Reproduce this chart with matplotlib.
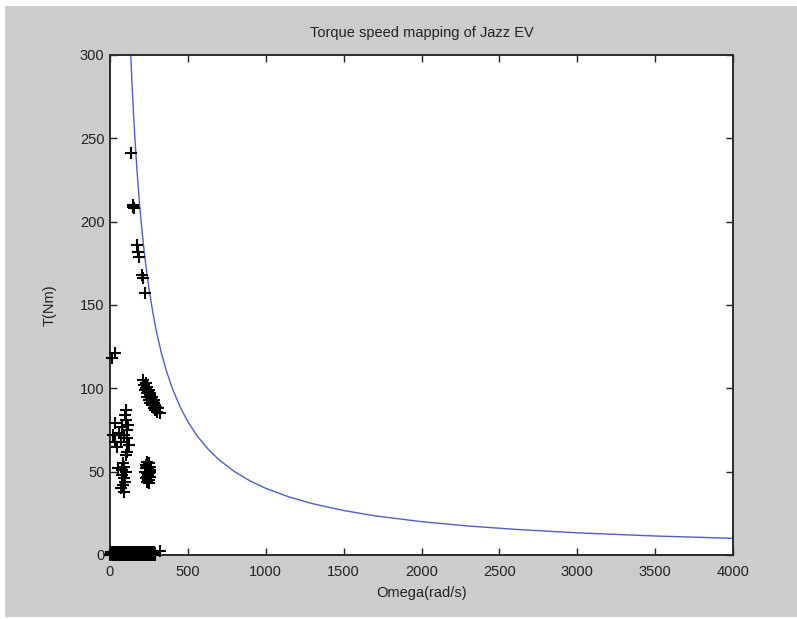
import matplotlib
matplotlib.use("Agg")
import matplotlib.pyplot as plt
from matplotlib.patches import Rectangle

plt.rcParams['font.family'] = ['Liberation Sans', 'DejaVu Sans']

# ---- data ----
curve_omega = [133, 140, 150, 160, 170, 180, 190, 200, 215, 230, 250, 275, 300, 330, 360,
               400, 450, 500, 560, 630, 700, 800, 900, 1000, 1150, 1300, 1500, 1700, 2000,
               2300, 2600, 3000, 3500, 4000, 4000]
curve_torque = [300.8, 285.7, 266.7, 250.0, 235.3, 222.2, 210.5, 200.0, 186.0, 173.9, 160.0,
                145.5, 133.3, 121.2, 111.1, 100.0, 88.9, 80.0, 71.4, 63.5, 57.1, 50.0, 44.4,
                40.0, 34.8, 30.8, 26.7, 23.5, 20.0, 17.4, 15.4, 13.3, 11.4, 10.0, 0.0]

# acceleration path points
path_omega = [15, 30, 133, 145, 150, 155, 175, 182, 188, 205, 210, 225]
path_torque = [118, 121, 241, 210, 209, 208, 186, 182, 179, 168, 166, 157]

# upper-right cluster
ur_omega = [215, 220, 225, 230, 235, 240, 245, 250, 255, 260, 265, 270, 275, 280, 285,
            290, 295, 300, 310, 320, 240, 260, 280, 230, 250, 270, 290]
ur_torque = [105, 102, 99, 103, 97, 95, 98, 93, 96, 91, 94, 90, 92, 88, 91,
             87, 89, 86, 88, 85, 101, 97, 93, 100, 99, 95, 90]

# middle cluster
mid_omega = [225, 230, 235, 240, 245, 250, 255, 260, 235, 240, 250, 230, 245, 255, 260,
             238, 248, 228, 252, 242]
mid_torque = [50, 54, 47, 56, 52, 45, 50, 53, 44, 49, 55, 46, 48, 47, 51,
              53, 43, 52, 49, 45]

# left cluster
left_omega = [100, 105, 110, 107, 112, 95, 115, 120, 100, 30, 35, 20, 45, 60, 70, 80, 90,
              85, 80, 90, 85, 88, 95, 75, 50, 70, 100, 92]
left_torque = [87, 81, 75, 70, 62, 84, 78, 66, 60, 79, 68, 72, 65, 73, 68, 77, 72,
               55, 51, 46, 42, 38, 44, 48, 52, 40, 50, 53]

# standstill / low torque points
zero_omega = [0, 4, 8, 12, 16, 20, 24, 28, 32, 36, 40, 44, 48, 52, 56, 60, 64, 68, 72, 76,
              80, 84, 88, 92, 96, 100, 104, 108, 112, 116, 120, 124, 128, 132, 136, 140,
              144, 148, 152, 156, 160, 164, 168, 172, 176, 180, 184, 188, 192, 196, 200,
              204, 208, 212, 216, 220, 224, 228, 232, 236, 240, 244, 248, 252, 256, 260,
              264, 268, 272, 276, 280, 284, 288, 292, 320]
zero_torque = [0, 1, 2, 0, 1, 2, 0, 1, 2, 0, 1, 2, 0, 1, 2, 0, 1, 2, 0, 1,
               2, 0, 1, 2, 0, 1, 2, 0, 1, 2, 0, 1, 2, 0, 1, 2,
               0, 1, 2, 0, 1, 2, 0, 1, 2, 0, 1, 2, 0, 1, 2,
               0, 1, 2, 0, 1, 2, 0, 1, 2, 0, 1, 2, 0, 1, 2,
               0, 1, 2, 0, 1, 2, 0, 1, 2.5]

x_ticks = [0, 500, 1000, 1500, 2000, 2500, 3000, 3500, 4000]
y_ticks = [0, 50, 100, 150, 200, 250, 300]

# ---- figure ----
fig = plt.figure(figsize=(7.97, 6.19), dpi=100, facecolor='white')
fig.patches.append(Rectangle((5 / 797, 1 - 617 / 619), 792 / 797, 611 / 619,
                             transform=fig.transFigure, facecolor='#cccccc',
                             edgecolor='none', zorder=-10))

ax = fig.add_axes([110 / 797, 1 - 555 / 619, 623 / 797, 500 / 619])
ax.set_facecolor('white')

ax.plot(curve_omega, curve_torque, color='#4f5fc8', linewidth=1.0, zorder=2)

mk = dict(marker='+', linestyle='none', color='black', markersize=9,
          markeredgewidth=1.5, clip_on=False, zorder=3)
for xs, ys in [(path_omega, path_torque), (ur_omega, ur_torque), (mid_omega, mid_torque),
               (left_omega, left_torque), (zero_omega, zero_torque)]:
    ax.plot(xs, ys, **mk)

ax.set_xlim(0, 4000)
ax.set_ylim(0, 300)
ax.set_xticks(x_ticks)
ax.set_yticks(y_ticks)
ax.tick_params(direction='in', length=5, width=1, top=True, right=True,
               labelsize=10.5, colors='#222222')
ax.tick_params(axis='x', pad=7)
ax.tick_params(axis='y', pad=4)
for s in ax.spines.values():
    s.set_linewidth(1.4)
    s.set_color('#2a2a2a')

ax.set_title('Torque speed mapping of Jazz EV', fontsize=10.5, color='#222222', pad=13)
ax.set_xlabel('Omega(rad/s)', fontsize=10.5, color='#222222', labelpad=5)
ax.set_ylabel('T(Nm)', fontsize=10.5, color='#222222', labelpad=17)

fig.savefig('out.png', dpi=100, facecolor=fig.get_facecolor())
